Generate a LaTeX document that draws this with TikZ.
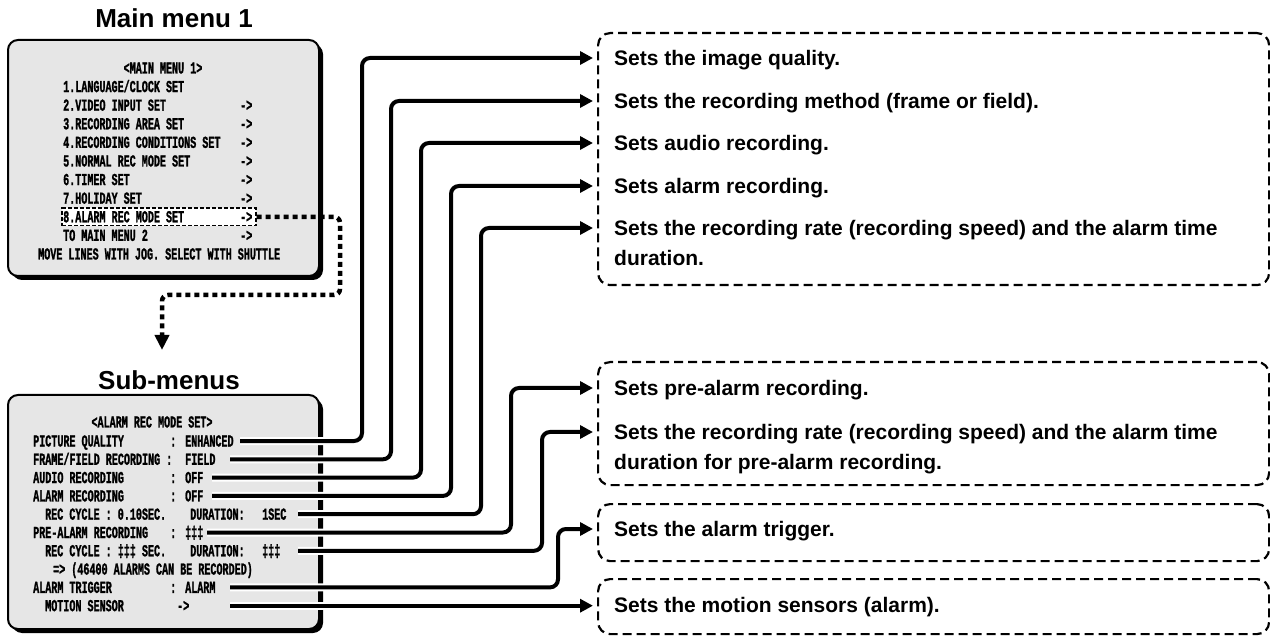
\documentclass[tikz,border=0pt]{standalone}
\usepackage{fontspec}
\setmainfont{Liberation Sans}
\newfontfamily\osd[FakeStretch=0.6,FakeBold=1.2]{Liberation Mono Bold}
\usetikzlibrary{arrows.meta}
\definecolor{menugray}{HTML}{E6E6E6}
\begin{document}
\begin{tikzpicture}[x=1pt,y=-1pt,
  osdtxt/.style={font=\osd\fontsize{16.8}{16.8}\selectfont, inner sep=0pt, anchor=base west},
  osdmid/.style={osdtxt, anchor=base},
  title/.style={font=\bfseries\fontsize{26}{30}\selectfont, inner sep=0pt, anchor=base},
  desc/.style={font=\bfseries\fontsize{21}{30}\selectfont, inner sep=0pt, anchor=base west, align=left},
  menubox/.style={draw=black, line width=2pt, fill=menugray, rounded corners=10pt},
  menushadow/.style={fill=black, rounded corners=10pt},
  dbox/.style={draw=black, line width=2.2pt, dash pattern=on 9pt off 5pt, rounded corners=12pt, inner sep=0pt, anchor=north west},
  hlbox/.style={draw=black, line width=1.1pt, dash pattern=on 4pt off 2pt, fill=white, inner sep=0pt, minimum width=194pt, minimum height=17.5pt},
  halo/.style={draw=white, line width=8pt, rounded corners=8pt},
  conn/.style={draw=black, line width=4pt, rounded corners=8pt, -{Triangle[length=13pt,width=13pt]}},
  dotconn/.style={draw=black, line width=4.5pt, dash pattern=on 5pt off 4pt, rounded corners=6pt, -{Triangle[length=15pt,width=14pt]}}
]
\useasboundingbox (0,0) rectangle (1270,636);

% ---------- titles ----------
\node[title] (tmain) at (174,28) {Main menu 1};
\node[title] (tsub) at (169,390) {Sub-menus};

% ---------- main menu box ----------
\fill[menushadow] (12,44) rectangle (323,280);
\draw[menubox] (8,40) rectangle (319,276);
\node[hlbox] (hl) at (159,216.8) {};
\node[osdmid] (m0) at (163,73.5) {<MAIN MENU 1>};
\node[osdtxt] (m1) at (63,92.1) {1.LANGUAGE/CLOCK SET};
\node[osdtxt] (m2) at (63,110.7) {2.VIDEO INPUT SET};
\node[osdtxt] (m3) at (63,129.3) {3.RECORDING AREA SET};
\node[osdtxt] (m4) at (63,147.9) {4.RECORDING CONDITIONS SET};
\node[osdtxt] (m5) at (63,166.5) {5.NORMAL REC MODE SET};
\node[osdtxt] (m6) at (63,185.1) {6.TIMER SET};
\node[osdtxt] (m7) at (63,203.7) {7.HOLIDAY SET};
\node[osdtxt] (m8) at (63,222.3) {8.ALARM REC MODE SET};
\node[osdtxt] (m9) at (63,240.9) {TO MAIN MENU 2};
\node[osdtxt] (m10) at (38,259.5) {MOVE LINES WITH JOG. SELECT WITH SHUTTLE};
\node[osdtxt] (a2) at (240,110.7) {->};
\node[osdtxt] (a3) at (240,129.3) {->};
\node[osdtxt] (a4) at (240,147.9) {->};
\node[osdtxt] (a5) at (240,166.5) {->};
\node[osdtxt] (a6) at (240,185.1) {->};
\node[osdtxt] (a7) at (240,203.7) {->};
\node[osdtxt] (a8) at (240,222.3) {->};
\node[osdtxt] (a9) at (240,240.9) {->};

% ---------- dotted link main -> sub ----------
\coordinate (dt) at (162,350);
\draw[dotconn] (hl.east) -- (340,216.8) -- (340,295) -- (162,295) -- (dt);

% ---------- sub-menu box ----------
\fill[menushadow] (12,399) rectangle (323,633);
\draw[menubox] (8,395) rectangle (319,629);
\node[osdmid] (n0) at (152,427.5) {<ALARM REC MODE SET>};
\node[osdtxt] (n1) at (33,446.5) {PICTURE QUALITY};
\node[osdtxt] (c1) at (170,446.5) {:};
\node[osdtxt] (v1) at (185,446.5) {ENHANCED};
\node[osdtxt] (n2) at (33,464.8) {FRAME/FIELD RECORDING};
\node[osdtxt] (c2) at (166,464.8) {:};
\node[osdtxt] (v2) at (185,464.8) {FIELD};
\node[osdtxt] (n3) at (33,483.1) {AUDIO RECORDING};
\node[osdtxt] (c3) at (170,483.1) {:};
\node[osdtxt] (v3) at (185,483.1) {OFF};
\node[osdtxt] (n4) at (33,501.4) {ALARM RECORDING};
\node[osdtxt] (c4) at (170,501.4) {:};
\node[osdtxt] (v4) at (185,501.4) {OFF};
\node[osdtxt] (n5) at (45,519.7) {REC CYCLE : 0.10SEC.};
\node[osdtxt] (d5) at (190,519.7) {DURATION:};
\node[osdtxt] (v5) at (262,519.7) {1SEC};
\node[osdtxt] (n6) at (33,538) {PRE-ALARM RECORDING};
\node[osdtxt] (c6) at (170,538) {:};
\node[osdtxt] (v6) at (185,538) {‡‡‡};
\node[osdtxt] (n7) at (45,556.3) {REC CYCLE : ‡‡‡ SEC.};
\node[osdtxt] (d7) at (190,556.3) {DURATION:};
\node[osdtxt] (v7) at (262,556.3) {‡‡‡};
\node[osdtxt] (n8) at (53,574.6) {=> (46400 ALARMS CAN BE RECORDED)};
\node[osdtxt] (n9) at (33,592.9) {ALARM TRIGGER};
\node[osdtxt] (c9) at (170,592.9) {:};
\node[osdtxt] (v9) at (185,592.9) {ALARM};
\node[osdtxt] (n10) at (45,611.2) {MOTION SENSOR};
\node[osdtxt] (v10) at (177,611.2) {->};

% ---------- description boxes ----------
\node[dbox, minimum width=671pt, minimum height=252pt] (b1) at (597,32) {};
\node[dbox, minimum width=671pt, minimum height=123pt] (b2) at (597,361) {};
\node[dbox, minimum width=671pt, minimum height=57pt] (b3) at (597,503) {};
\node[dbox, minimum width=671pt, minimum height=55pt] (b4) at (597,578) {};

\node[desc] (r1) at (614,65.5) {Sets the image quality.};
\node[desc] (r2) at (614,108.5) {Sets the recording method (frame or field).};
\node[desc] (r3) at (614,150.5) {Sets audio recording.};
\node[desc] (r4) at (614,193.5) {Sets alarm recording.};
\node[desc] (r5) at (614,265.5) {Sets the recording rate (recording speed) and the alarm time\\duration.};
\node[desc] (r6) at (614,395.5) {Sets pre-alarm recording.};
\node[desc] (r7) at (614,469.5) {Sets the recording rate (recording speed) and the alarm time\\duration for pre-alarm recording.};
\node[desc] (r8) at (614,536.5) {Sets the alarm trigger.};
\node[desc] (r9) at (614,612.7) {Sets the motion sensors (alarm).};

% ---------- connectors ----------
\coordinate (s1) at (240,441);   \coordinate (t1) at (593,58);
\coordinate (s2) at (230,459.3); \coordinate (t2) at (593,101);
\coordinate (s3) at (212,477.6); \coordinate (t3) at (593,143);
\coordinate (s4) at (212,495.9); \coordinate (t4) at (593,186);
\coordinate (s5) at (298,514.2); \coordinate (t5) at (593,228);
\coordinate (s6) at (207,532.5); \coordinate (t6) at (593,388);
\coordinate (s7) at (298,550.8); \coordinate (t7) at (593,432);
\coordinate (s8) at (230,587.4); \coordinate (t8) at (593,529);
\coordinate (s9) at (230,605.7); \coordinate (t9) at (593,605.7);

\foreach \s/\t/\vx in {s1/t1/362, s2/t2/391, s3/t3/421, s4/t4/451, s5/t5/481, s6/t6/511, s7/t7/542, s8/t8/558}{
  \draw[halo] (\s) -- (\s -| \vx,0) |- (\t);
}
\draw[halo] (s9) -- (t9);
\foreach \s/\t/\vx in {s1/t1/362, s2/t2/391, s3/t3/421, s4/t4/451, s5/t5/481, s6/t6/511, s7/t7/542, s8/t8/558}{
  \draw[conn] (\s) -- (\s -| \vx,0) |- (\t);
}
\draw[conn] (s9) -- (t9);
\end{tikzpicture}
\end{document}
